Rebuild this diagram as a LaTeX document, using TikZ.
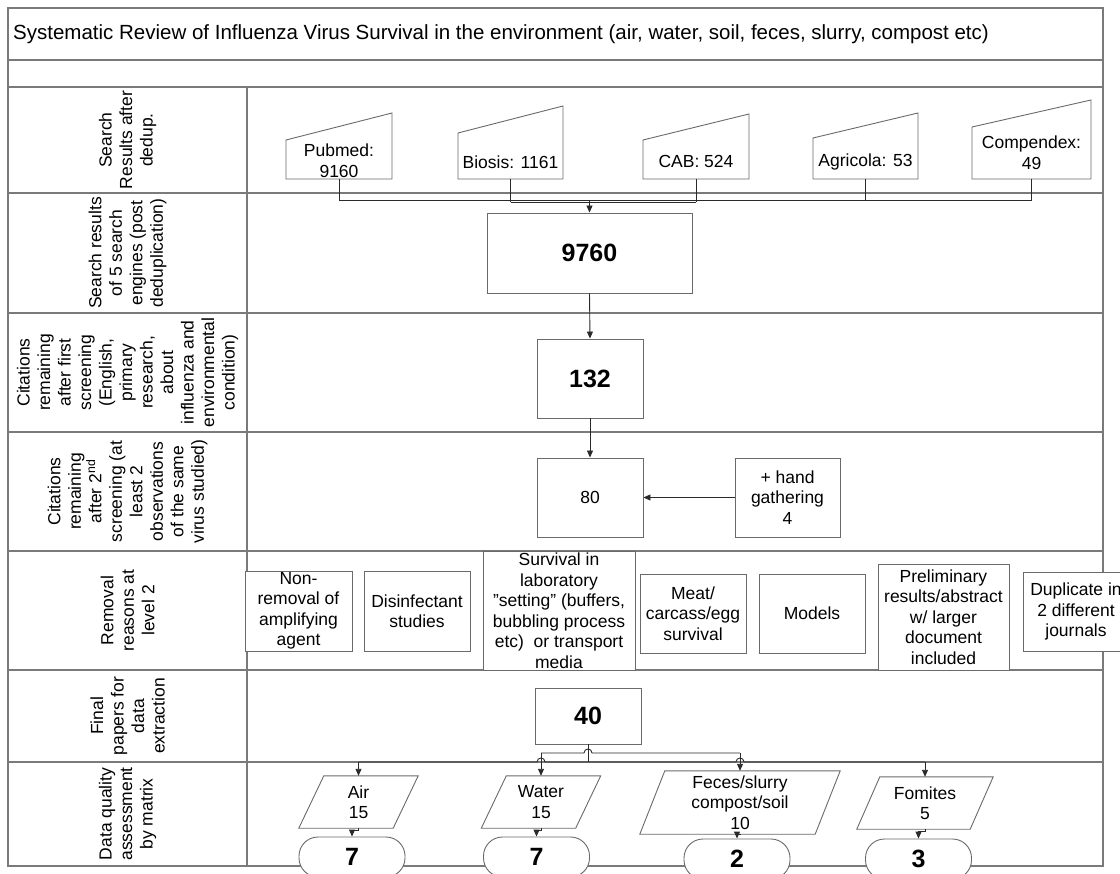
\documentclass[tikz,border=0pt]{standalone}
\usepackage{fontspec}
\setmainfont{Liberation Sans}
\usetikzlibrary{arrows.meta}
\definecolor{tblcol}{HTML}{7A7A7A}
\definecolor{bxcol}{HTML}{6A6A6A}
\definecolor{cncol}{HTML}{2A2A2A}
\begin{document}
\begin{tikzpicture}[x=1pt,y=-1pt,
  tline/.style={draw=tblcol, line width=1.3pt},
  txt/.style={font=\fontsize{17.5}{20.5}\selectfont, align=center, inner sep=0pt},
  bignum/.style={font=\fontsize{25}{28}\selectfont\bfseries, align=center, inner sep=0pt},
  bx/.style={draw=bxcol, line width=0.9pt},
  boxn/.style={bx, fill=white, txt},
  inv/.style={txt},
  cnl/.style={draw=cncol, line width=0.9pt},
  arr/.style={cnl, -{Triangle[length=7pt,width=6pt]}},
  rowlab/.style={txt, rotate=90},
  pill/.style={bx, fill=white, rounded corners=19pt, minimum width=106pt, minimum height=40pt, bignum}
]
\useasboundingbox (0,0) rectangle (1120,874);
\fill[white] (0,0) rectangle (1120,874);

% ---------- table ----------
\draw[tline] (8,8) rectangle (1103,866);
\foreach \yy in {60,87,193,313,432,551,670,762}
  \draw[tline] (8,\yy) -- (1103,\yy);
\draw[tline] (247,87) -- (247,866);

\node[txt, font=\fontsize{20.5}{24}\selectfont, anchor=west] (title) at (13,34)
  {Systematic Review of Influenza Virus Survival in the environment (air, water, soil, feces, slurry, compost etc)};

% ---------- row labels ----------
\node[rowlab] (l1) at (127.5,140) {Search\\Results after\\dedup.};
\node[rowlab] (l2) at (127.5,253) {Search results\\of 5 search\\engines (post\\deduplication)};
\node[rowlab] (l3) at (127.5,372.5) {Citations\\remaining\\after first\\screening\\(English,\\primary\\research,\\about\\influenza and\\environmental\\condition)};
\node[rowlab] (l4) at (127.5,491.5) {Citations\\remaining\\after 2\textsuperscript{nd}\\screening (at\\least 2\\observations\\of the same\\virus studied)};
\node[rowlab] (l5) at (127.5,610.5) {Removal\\reasons at\\level 2};
\node[rowlab] (l6) at (127.5,716) {Final\\papers for\\data\\extraction};
\node[rowlab] (l7) at (127.5,814) {Data quality\\assessment\\by matrix};

% ---------- search engine shapes ----------
\draw[bx, fill=white] (286,179) -- (392,179) -- (392,113) -- (286,140) -- cycle;
\draw[bx, fill=white] (458,179) -- (563,179) -- (563,106) -- (458,133) -- cycle;
\draw[bx, fill=white] (643,179) -- (749,179) -- (749,114) -- (643,140) -- cycle;
\draw[bx, fill=white] (813,179) -- (918,179) -- (918,113) -- (813,138) -- cycle;
\draw[bx, fill=white] (972,179) -- (1091,179) -- (1091,100) -- (972,127) -- cycle;
\node[inv, minimum width=106pt, minimum height=36pt, anchor=south] (pub) at (339,179) {Pubmed:\\9160};
\node[inv, minimum width=105pt, minimum height=34pt, anchor=south] (bio) at (510.5,179) {Biosis: 1161};
\node[inv, minimum width=106pt, minimum height=34pt, anchor=south] (cab) at (696,179) {CAB: 524};
\node[inv, minimum width=105pt, minimum height=34pt, anchor=south] (agr) at (865.5,179) {Agricola: 53};
\node[inv, minimum width=119pt, minimum height=52pt, anchor=south] (com) at (1031.5,179) {Compendex:\\49};

% ---------- main flow boxes ----------
\node[boxn, bignum, minimum width=205pt, minimum height=80pt] (n9760) at (589.5,253) {9760};
\node[boxn, bignum, minimum width=106pt, minimum height=79pt] (n132) at (590,378.5) {132};
\node[boxn, minimum width=106pt, minimum height=79pt] (n80) at (590,497.5) {80};
\node[boxn, minimum width=105pt, minimum height=79pt] (hand) at (787.5,497.5) {+ hand\\gathering\\4};
\node[boxn, bignum, minimum width=106pt, minimum height=56pt] (n40) at (588,716) {40};

% ---------- removal reasons ----------
\node[boxn, minimum width=107pt, minimum height=80pt] (r1) at (298.5,611) {Non-\\removal of\\amplifying\\agent};
\node[boxn, minimum width=106pt, minimum height=80pt] (r2) at (417,611) {Disinfectant\\studies};
\node[boxn, minimum width=152pt, minimum height=119pt] (r3) at (559,610.5) {Survival in\\laboratory\\”setting” (buffers,\\bubbling process\\etc)\ \ or transport\\media};
\node[boxn, minimum width=106pt, minimum height=79pt] (r4) at (693,613.5) {Meat/\\carcass/egg\\survival};
\node[boxn, minimum width=106pt, minimum height=79pt] (r5) at (812,613.5) {Models};
\node[boxn, minimum width=131pt, minimum height=106pt] (r6) at (943.5,617) {Preliminary\\results/abstract\\w/ larger\\document\\included};
\node[boxn, minimum width=106pt, minimum height=79pt] (r7) at (1076,611.5) {Duplicate in\\2 different\\journals};

% ---------- data quality parallelograms ----------
\node[inv, minimum width=94pt, minimum height=52pt] (air) at (358.5,802) {Air\\15};
\node[inv, minimum width=94pt, minimum height=52pt] (water) at (541,802) {Water\\15};
\node[inv, minimum width=175pt, minimum height=63pt] (feces) at (740,802.5) {Feces/slurry\\compost/soil\\10};
\node[inv, minimum width=113pt, minimum height=52pt] (fom) at (925,803) {Fomites\\5};
\draw[bx] ([xshift=12.5pt]air.north west) -- ([xshift=12.5pt]air.north east) -- ([xshift=-12.5pt]air.south east) -- ([xshift=-12.5pt]air.south west) -- cycle;
\draw[bx] ([xshift=12.5pt]water.north west) -- ([xshift=12.5pt]water.north east) -- ([xshift=-12.5pt]water.south east) -- ([xshift=-12.5pt]water.south west) -- cycle;
\draw[bx] ([xshift=12.5pt]feces.north west) -- ([xshift=12.5pt]feces.north east) -- ([xshift=-12.5pt]feces.south east) -- ([xshift=-12.5pt]feces.south west) -- cycle;
\draw[bx] ([xshift=11.5pt]fom.north west) -- ([xshift=11.5pt]fom.north east) -- ([xshift=-11.5pt]fom.south east) -- ([xshift=-11.5pt]fom.south west) -- cycle;

\node[pill] (p1) at (352,857) {7};
\node[pill] (p2) at (536.5,857) {7};
\node[pill] (p3) at (737,859) {2};
\node[pill] (p4) at (918.5,859) {3};

% ---------- connectors ----------
\coordinate (bus) at (0,200);
\coordinate (busb) at (0,202);
\coordinate (r762) at (0,762);
\coordinate (r753) at (0,753);
\draw[cnl] (pub.south) -- (pub.south |- bus) -- (com.south |- bus) -- (com.south);
\draw[cnl] (bio.south) -- (bio.south |- busb);
\draw[cnl] (cab.south) -- (cab.south |- busb);
\draw[cnl] (agr.south) -- (agr.south |- bus);
\draw[cnl] (bio.south |- busb) -- (cab.south |- busb);
\draw[arr] (n9760.north |- bus) -- (n9760.north);
\draw[arr] (n9760.south) -- (n132.north);
\draw[arr] (n132.south) -- (n80.north);
\draw[arr] (hand.west) -- (n80.east);

\draw[cnl] (n40.south) -- (n40.south |- r762);
\draw[cnl] (air.north |- r762) -- ([xshift=-4pt]water.north |- r762)
  .. controls +(0,-5.3) and +(0,-5.3) .. ([xshift=4pt]water.north |- r762)
  -- ([xshift=-4pt]feces.north |- r762)
  .. controls +(0,-5.3) and +(0,-5.3) .. ([xshift=4pt]feces.north |- r762)
  -- (fom.north |- r762);
\draw[arr] (air.north |- r762) -- (air.north);
\draw[arr] (fom.north |- r762) -- (fom.north);
\draw[cnl] (water.north |- r753) -- ([xshift=-4pt]n40.south |- r753)
  .. controls +(0,-5.3) and +(0,-5.3) .. ([xshift=4pt]n40.south |- r753)
  -- (feces.north |- r753);
\draw[arr] (water.north |- r753) -- (water.north);
\draw[arr] (feces.north |- r753) -- (feces.north);

\draw[arr] (air.south) -- ++(0,2) -| (p1.north);
\draw[arr] (water.south) -- ++(0,2) -| (p2.north);
\draw[arr] (feces.south) -- ++(0,0.5) -| (p3.north);
\draw[arr] (fom.south) -- ++(0,2) -| (p4.north);
\end{tikzpicture}
\end{document}
